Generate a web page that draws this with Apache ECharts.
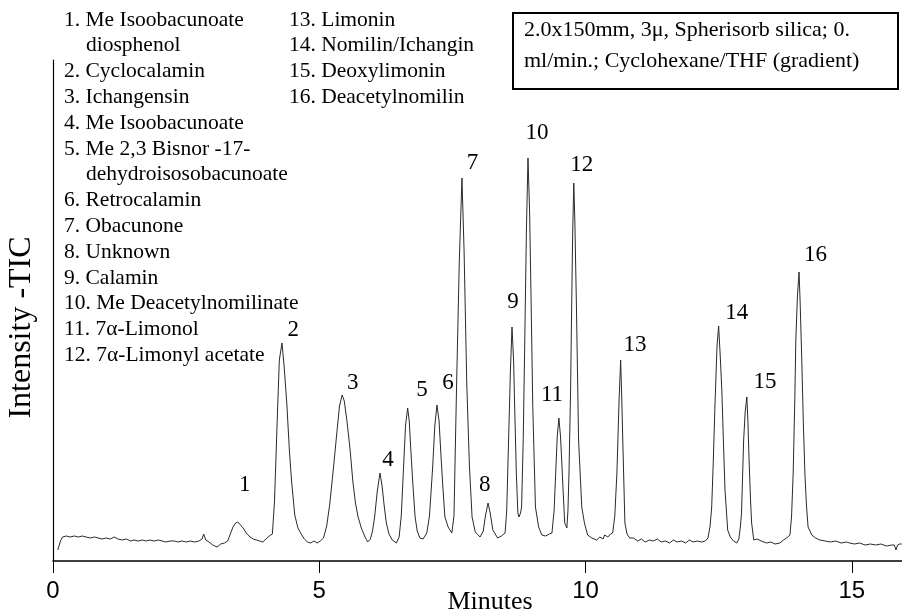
<!DOCTYPE html>
<html>
<head>
<meta charset="utf-8">
<script src="https://cdn.jsdelivr.net/npm/echarts@6/dist/echarts.min.js"></script>
<style>
html,body{margin:0;padding:0;background:#fff;}
#chart{width:902px;height:614px;}
</style>
</head>
<body>
<div id="chart"></div>
<script>
// Retention time (minutes) and TIC intensity (arbitrary units)
var times = [0.09,0.14,0.18,0.25,0.32,0.40,0.48,0.55,0.62,0.70,0.78,0.85,0.92,1.00,1.08,1.15,1.22,1.30,1.38,1.45,1.52,1.60,1.68,1.75,1.82,1.90,1.98,2.05,2.12,2.20,2.28,2.35,2.42,2.50,2.58,2.66,2.74,2.80,2.83,2.87,2.93,3.00,3.08,3.15,3.22,3.28,3.33,3.38,3.43,3.47,3.52,3.57,3.63,3.70,3.76,3.82,3.88,3.94,4.00,4.06,4.12,4.16,4.20,4.25,4.30,4.34,4.39,4.44,4.48,4.54,4.60,4.66,4.72,4.78,4.84,4.90,4.96,5.02,5.08,5.14,5.20,5.27,5.33,5.38,5.43,5.47,5.52,5.58,5.63,5.68,5.73,5.79,5.86,5.91,5.96,6.00,6.04,6.09,6.14,6.18,6.22,6.26,6.31,6.37,6.45,6.50,6.54,6.58,6.62,6.66,6.69,6.72,6.76,6.80,6.84,6.89,6.95,7.02,7.07,7.13,7.17,7.21,7.25,7.28,7.32,7.36,7.42,7.49,7.53,7.58,7.63,7.68,7.72,7.77,7.82,7.87,7.93,8.02,8.08,8.12,8.17,8.21,8.26,8.35,8.42,8.49,8.52,8.55,8.59,8.62,8.65,8.67,8.70,8.73,8.75,8.78,8.80,8.83,8.86,8.89,8.92,8.95,8.97,9.01,9.06,9.12,9.18,9.25,9.32,9.37,9.41,9.44,9.47,9.50,9.53,9.55,9.58,9.61,9.65,9.67,9.69,9.72,9.74,9.76,9.78,9.80,9.83,9.87,9.93,9.98,10.04,10.12,10.21,10.27,10.33,10.36,10.42,10.47,10.51,10.55,10.59,10.63,10.66,10.68,10.70,10.74,10.78,10.83,10.90,10.98,11.05,11.12,11.20,11.27,11.35,11.42,11.50,11.58,11.65,11.72,11.80,11.88,11.95,12.02,12.10,12.18,12.25,12.30,12.34,12.37,12.40,12.43,12.47,12.50,12.53,12.56,12.59,12.62,12.67,12.72,12.78,12.84,12.88,12.91,12.93,12.97,13.00,13.03,13.05,13.07,13.10,13.12,13.16,13.22,13.30,13.40,13.48,13.56,13.65,13.72,13.80,13.84,13.87,13.90,13.93,13.95,13.98,14.01,14.03,14.06,14.09,14.12,14.15,14.18,14.25,14.32,14.40,14.50,14.60,14.70,14.80,14.90,14.96,15.05,15.15,15.25,15.35,15.45,15.55,15.65,15.75,15.80,15.83,15.86,15.90,15.94];
var intensity = [11,20,24,25,24,25,24,25,24,23,24,23,22,23,22,24,22,21,22,20,21,20,21,20,21,20,21,20,19,20,20,19,20,19,20,19,20,22,27,21,19,16,14,17,18,20,27,34,38,39,36,33,28,24,22,21,20,19,22,25,27,60,124,201,218,195,158,110,80,46,33,27,22,19,18,20,18,20,23,35,58,95,128,155,166,160,140,111,80,58,44,33,24,19,22,30,44,70,88,75,55,38,27,21,18,24,45,90,135,153,140,111,75,44,30,23,22,28,45,94,135,156,140,111,75,44,34,28,45,178,300,383,310,178,95,44,29,24,30,45,58,48,31,23,25,28,50,110,190,234,200,154,90,48,44,48,54,120,221,330,403,350,288,154,54,34,26,25,27,28,50,88,125,143,125,104,70,38,33,50,88,170,254,330,378,340,254,121,54,38,26,23,21,24,22,26,24,27,28,45,88,160,201,165,121,38,27,23,23,20,22,19,21,20,22,19,20,18,21,19,20,18,21,19,20,19,20,23,35,54,100,154,215,235,205,171,120,71,31,24,20,18,22,35,48,121,150,164,140,104,60,38,21,22,20,18,19,17,18,21,24,26,45,88,160,221,265,289,260,204,140,88,55,34,26,23,21,20,19,20,18,19,18,17,18,16,17,16,17,15,16,16,11,16,17,17];

// Peak numbers and where their labels sit (time, intensity)
var peakNames = ["1","2","3","4","5","6","7","8","9","10","11","12","13","14","15","16"];
var peakLabelTimes = [3.60,4.51,5.63,6.29,6.93,7.42,7.88,8.11,8.64,9.09,9.37,9.93,10.93,12.84,13.37,14.32];
var peakLabelIntensity = [76,231,178,101,171,178,398,76,259,428,166,396,216,248,179,306];

// Compound key (two columns)
var keyColumn1 = ["1. Me Isoobacunoate","   diosphenol","2. Cyclocalamin","3. Ichangensin","4. Me Isoobacunoate","5. Me 2,3 Bisnor -17-","   dehydroisosobacunoate","6. Retrocalamin","7. Obacunone","8. Unknown","9. Calamin","10. Me Deacetylnomilinate","11. 7\u03b1-Limonol","12. 7\u03b1-Limonyl acetate"];
var keyColumn2 = ["13. Limonin","14. Nomilin/Ichangin","15. Deoxylimonin","16. Deacetylnomilin"];
var conditionLines = ["2.0x150mm, 3\u03bc, Spherisorb silica; 0.","ml/min.; Cyclohexane/THF (gradient)"];

// Axis settings
var xMin = 0, xMax = 16, xInterval = 5;
var yMin = 0, yMax = 501;
var xTitle = "Minutes";
var yTitle = "Intensity -TIC";

var SERIF = '"Liberation Serif","Times New Roman",serif';
var SANS = '"Liberation Sans",Arial,sans-serif';

var lineData = times.map(function (t, i) { return [t, intensity[i]]; });
var labelData = peakNames.map(function (n, i) { return { name: n, value: [peakLabelTimes[i], peakLabelIntensity[i]] }; });

var graphics = [];
var keyFont = 21.5, keyLine = 25.8, keyTop = 20;
function addKey(lines, x) {
  lines.forEach(function (s, i) {
    var indent = s.indexOf("   ") === 0;
    graphics.push({
      type: 'text', x: indent ? x + 22 : x, y: keyTop + i * keyLine,
      style: { text: s.trim(), font: keyFont + 'px ' + SERIF, fill: '#000', textAlign: 'left', textVerticalAlign: 'middle' }
    });
  });
}
addKey(keyColumn1, 64);
addKey(keyColumn2, 289);
graphics.push({ type: 'rect', shape: { x: 513, y: 13, width: 385, height: 76 }, style: { fill: 'none', stroke: '#000', lineWidth: 2 } });
conditionLines.forEach(function (s, i) {
  graphics.push({ type: 'text', x: 524, y: 30 + i * 31, style: { text: s, font: '22px ' + SERIF, fill: '#000', textAlign: 'left', textVerticalAlign: 'middle' } });
});

var chart = echarts.init(document.getElementById('chart'));
chart.setOption({
  animation: false,
  backgroundColor: '#fff',
  grid: { left: 53, right: -3, top: 60, bottom: 53, containLabel: false, outerBoundsMode: 'none' },
  xAxis: {
    type: 'value', min: xMin, max: xMax, interval: xInterval,
    name: xTitle, nameLocation: 'middle', nameGap: 28, nameMoveOverlap: false,
    nameTextStyle: { fontFamily: SERIF, fontSize: 26, color: '#000', padding: [0, 0, 0, 22] },
    axisLine: { show: true, lineStyle: { color: '#000', width: 1.5 } },
    axisTick: { show: true, inside: false, length: 12, lineStyle: { color: '#000', width: 1 } },
    axisLabel: { show: true, margin: 18, fontFamily: SANS, fontSize: 24, color: '#000', showMaxLabel: false },
    splitLine: { show: false }
  },
  yAxis: {
    type: 'value', min: yMin, max: yMax,
    name: yTitle, nameLocation: 'middle', nameGap: 15, nameMoveOverlap: false,
    nameTextStyle: { fontFamily: SERIF, fontSize: 32, color: '#000', padding: [0, 34, 0, 0] },
    axisLine: { show: true, lineStyle: { color: '#000', width: 1.2 } },
    axisTick: { show: false }, axisLabel: { show: false }, splitLine: { show: false }
  },
  series: [
    { type: 'line', data: lineData, showSymbol: false, symbol: 'none', smooth: false,
      lineStyle: { color: '#2a2a2a', width: 1 }, silent: true },
    { type: 'scatter', data: labelData, symbolSize: 1, itemStyle: { color: 'rgba(0,0,0,0)', opacity: 1 },
      label: { show: true, position: 'inside', formatter: '{b}', fontFamily: SERIF, fontSize: 23, color: '#000', textBorderWidth: 0 }, silent: true }
  ],
  graphic: graphics
});
</script>
</body>
</html>
